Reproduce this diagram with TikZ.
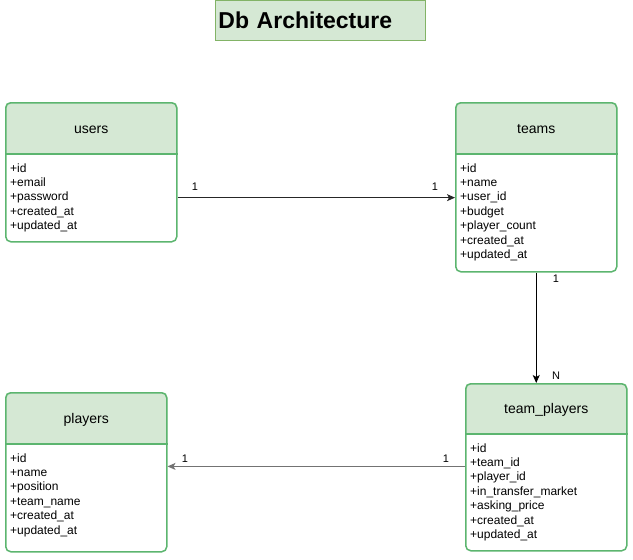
\documentclass[tikz,border=0pt]{standalone}
\usepackage{fontspec}
\setmainfont{Liberation Sans}
\usetikzlibrary{calc, arrows.meta, backgrounds}

\definecolor{hdrgreen}{HTML}{D5E8D4}
\definecolor{tblgreen}{HTML}{5CB56F}
\definecolor{titleline}{HTML}{82B366}

\begin{document}
\begin{tikzpicture}[x=1pt, y=-1pt,
  tbl/.style={draw=tblgreen, line width=1.5pt, rounded corners=5pt, anchor=north west, inner sep=0pt},
  hdr/.style={fill=hdrgreen, rounded corners=5pt},
  tblname/.style={font=\fontsize{14}{16}\selectfont, anchor=base},
  field/.style={font=\fontsize{12}{14}\selectfont, anchor=base west, inner sep=0pt},
  card/.style={font=\fontsize{11}{13}\selectfont, inner sep=0pt},
  rel/.style={draw=black!85, line width=0.9pt, -{Stealth[length=8pt, width=7pt, inset=2pt]}},
  titlebox/.style={fill=hdrgreen, draw=titleline, line width=0.8pt, anchor=north west,
    minimum width=210pt, minimum height=40pt, text width=204pt, inner xsep=3pt, align=left,
    font=\bfseries\fontsize{23}{26}\selectfont},
]
  \useasboundingbox (0,0) rectangle (633,560);

  \node[titlebox] (title) at (215,0) {Db Architecture};

  % tables
  \node[tbl, minimum width=171pt, minimum height=139pt] (users) at (5,102) {};
  \node[tbl, minimum width=161pt, minimum height=169pt] (teams) at (455,102) {};
  \node[tbl, minimum width=161pt, minimum height=159pt] (players) at (5,392) {};
  \node[tbl, minimum width=161pt, minimum height=167pt] (tp) at (465,383) {};

  \begin{scope}[on background layer]
    \foreach \t/\hh in {users/52, teams/52, players/52, tp/51}
      \fill[hdr] ([yshift=-\hh pt]\t.north west) -- (\t.north west) -- (\t.north east)
        -- ([yshift=-\hh pt]\t.north east);
  \end{scope}
  \foreach \t/\hh in {users/52, teams/52, players/52, tp/51}
    \draw[tblgreen, line width=1.5pt] ([yshift=-\hh pt]\t.north west) -- ([yshift=-\hh pt]\t.north east);

  \node[tblname] (users-name) at ($(users.north)+(0,31)$) {users};
  \node[tblname] (teams-name) at ($(teams.north)+(0,31)$) {teams};
  \node[tblname] (players-name) at ($(players.north)+(0,31)$) {players};
  \node[tblname] (tp-name) at ($(tp.north)+(0,30)$) {team\_players};

  \foreach \f [count=\i] in {+id, +email, +password, +created\_at, +updated\_at}
    \node[field] (users-f\i) at ($(users.north west)+(5, 70+14.4*\i-14.4)$) {\f};
  \foreach \f [count=\i] in {+id, +name, +user\_id, +budget, +player\_count, +created\_at, +updated\_at}
    \node[field] (teams-f\i) at ($(teams.north west)+(5, 70+14.4*\i-14.4)$) {\f};
  \foreach \f [count=\i] in {+id, +name, +position, +team\_name, +created\_at, +updated\_at}
    \node[field] (players-f\i) at ($(players.north west)+(5, 70+14.4*\i-14.4)$) {\f};
  \foreach \f [count=\i] in {+id, +team\_id, +player\_id, +in\_transfer\_market, +asking\_price, +created\_at, +updated\_at}
    \node[field] (tp-f\i) at ($(tp.north west)+(5, 69+14.4*\i-14.4)$) {\f};

  % relations
  \draw[rel] (users.east |- teams-f3) -- (teams.west |- teams-f3);
  \draw[rel, draw=black] (teams.south) -- (teams.south |- tp.north);
  \draw[rel, draw=black!55] (tp.west |- tp-f2.base) -- (players.east |- tp-f2.base);

  \node[card] (ut-a) at (195,187) {1};
  \node[card] (ut-b) at (435,187) {1};
  \node[card] (tt-a) at (556,279) {1};
  \node[card] (tt-b) at (556,376) {N};
  \node[card] (tpp-a) at (185,459) {1};
  \node[card] (tpp-b) at (446,459) {1};
\end{tikzpicture}
\end{document}
